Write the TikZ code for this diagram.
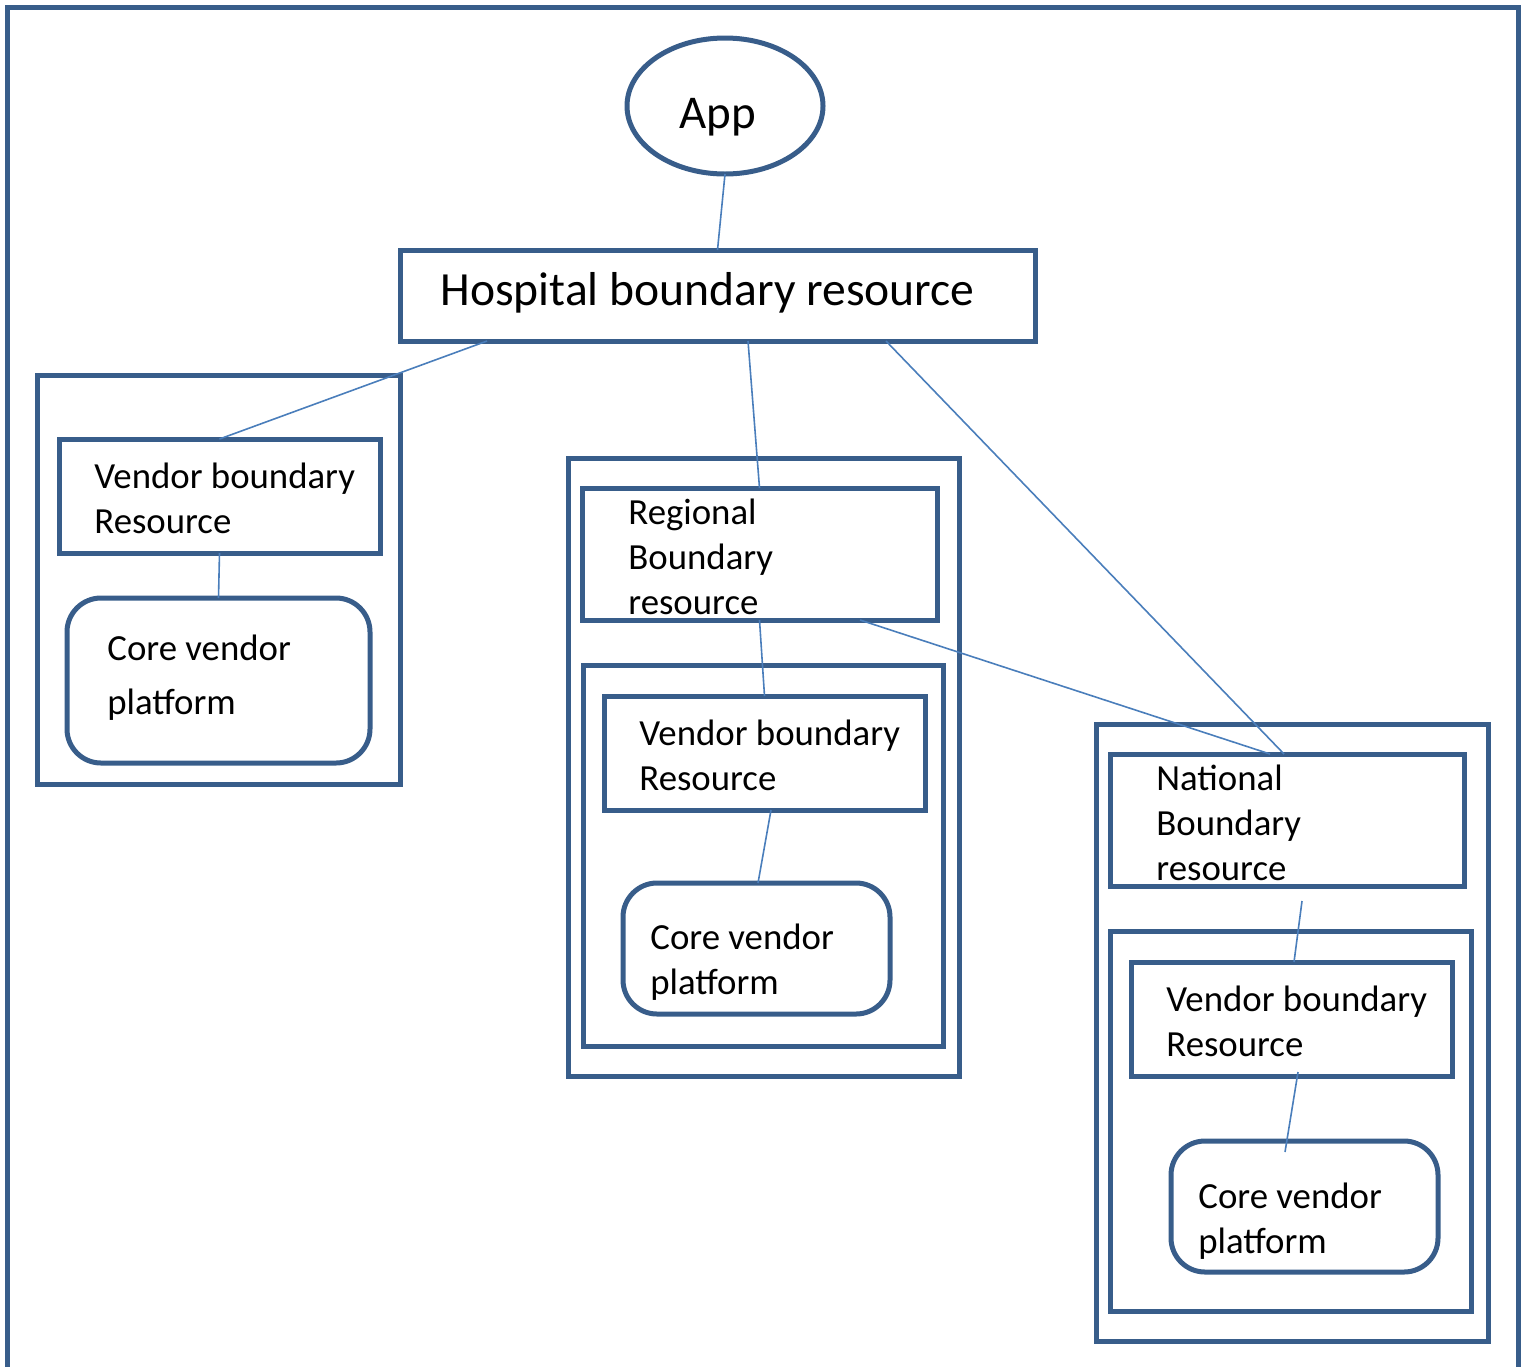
\documentclass[tikz,border=0pt]{standalone}
\usepackage{fontspec}
\setmainfont{Carlito}
\usetikzlibrary{shapes.geometric}
\definecolor{boxblue}{HTML}{385D8A}
\definecolor{linkblue}{HTML}{4A7EBB}
\tikzset{
  frame/.style = {draw=boxblue, line width=2.5pt, outer sep=0pt, inner sep=0pt},
  core/.style = {frame, rounded corners=17pt},
  link/.style = {draw=linkblue, line width=0.8pt},
  lbl/.style = {anchor=base west, align=left, inner sep=0pt, font=\fontsize{18.4}{22.5}\selectfont}
}

\begin{document}
\begin{tikzpicture}[x=0.5pt, y=-0.5pt]
\useasboundingbox (0,0) rectangle (1529,1366);
\draw [frame] (7,7) rectangle (1518,1372);
% top
\node [frame, ellipse, minimum width=98pt, minimum height=68pt] (app) at (725,106) {};
\node [lbl, font=\fontsize{23.5}{28}\selectfont] (apptxt) at (679,128) {App};
\node [frame, minimum width=317.5pt, minimum height=45.5pt] (hosp) at (717.5,295.5) {};
\node [lbl, font=\fontsize{23.8}{28}\selectfont] (hosptxt) at (440,305) {Hospital boundary resource};
% left group
\node [frame, minimum width=181.5pt, minimum height=204.5pt] (grpA) at (218.5,579.5) {};
\node [frame, minimum width=160.5pt, minimum height=57pt] (vendorA) at (219.5,496) {};
\node [core, minimum width=151.5pt, minimum height=82.5pt] (coreA) at (218.5,680.5) {};
\node [lbl] (vendorAtxt) at (94,533) {Vendor boundary\\Resource};
\node [lbl, font=\fontsize{18.4}{27}\selectfont] (coreAtxt) at (107,714) {Core vendor\\platform};
% middle group
\node [frame, minimum width=195.5pt, minimum height=309pt] (grpB) at (763.5,767) {};
\node [frame, minimum width=177.5pt, minimum height=66pt] (region) at (759.5,554) {};
\node [frame, minimum width=180pt, minimum height=190.5pt] (innerB) at (763,855.5) {};
\node [frame, minimum width=160.5pt, minimum height=57pt] (vendorB) at (764.5,753) {};
\node [core, minimum width=133.5pt, minimum height=65.5pt] (coreB) at (756.5,948.5) {};
\node [lbl] (regiontxt) at (628,614) {Regional\\Boundary\\resource};
\node [lbl] (vendorBtxt) at (639,790) {Vendor boundary\\Resource};
\node [lbl] (coreBtxt) at (650,994) {Core vendor\\platform};
% right group
\node [frame, minimum width=196pt, minimum height=308.5pt] (grpC) at (1292,1032.5) {};
\node [frame, minimum width=177pt, minimum height=66pt] (nation) at (1287,820) {};
\node [frame, minimum width=180.5pt, minimum height=190pt] (innerC) at (1290.5,1121) {};
\node [frame, minimum width=160.5pt, minimum height=57pt] (vendorC) at (1291.5,1019) {};
\node [core, minimum width=133.5pt, minimum height=65.5pt] (coreC) at (1304.5,1206.5) {};
\node [lbl] (nationtxt) at (1156,880) {National\\Boundary\\resource};
\node [lbl] (vendorCtxt) at (1166,1056) {Vendor boundary\\Resource};
\node [lbl] (coreCtxt) at (1198,1253) {Core vendor\\platform};
% links
\draw [link] (app.south) -- (hosp.north);
\draw [link] ([shift={(87,0)}]hosp.south west) -- (vendorA.north);
\draw [link] ([shift={(30.5,0)}]hosp.south) -- (region.north);
\draw [link] ([shift={(168.5,0)}]hosp.south) -- ([shift={(-3,0)}]nation.north);
\draw [link] ([shift={(100.5,0)}]region.south) -- ([shift={(-17,0)}]nation.north);
\draw [link] (vendorA.south) -- (coreA.north);
\draw [link] (region.south) -- (vendorB.north);
\draw [link] ([shift={(6.5,0)}]vendorB.south) -- ([shift={(1.5,0)}]coreB.north);
\coordinate (nationgap) at ([shift={(15,15)}]nation.south);
\draw [link] (nationgap) -- ([shift={(2.5,0)}]vendorC.north);
\draw [link] ([shift={(6.5,-4)}]vendorC.south) -- ([shift={(-19.5,11)}]coreC.north);
\end{tikzpicture}
\end{document}
